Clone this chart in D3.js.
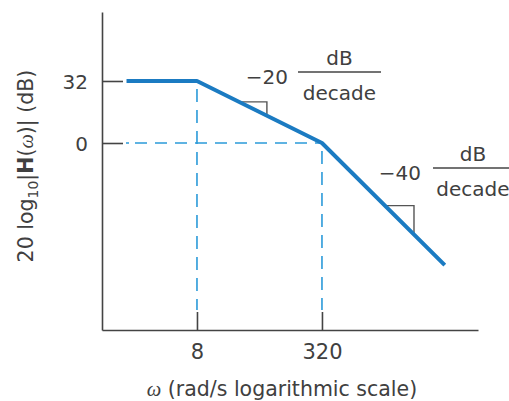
<!DOCTYPE html>
<html>
<head>
<meta charset="utf-8">
<script src="https://cdn.jsdelivr.net/npm/d3@7"></script>
<style>
  body { margin: 0; background: #fff; }
  text { font-family: "DejaVu Sans", "Liberation Sans", sans-serif; fill: #404040; }
</style>
</head>
<body>
<div id="chart"></div>
<script>
// asymptotic magnitude plot: corner points (omega in rad/s, magnitude in dB)
const omega = [1, 8, 320, 12000];
const magDb = [32, 32, 0, -63];
const xTicks = [8, 320];
const yTicks = [0, 32];
// right-angle slope markers, as [omega, dB] corners
const slopeMark1 = [[27.6, 21.2], [63, 21.2], [63, 14.1]];
const slopeMark2 = [[2058, -32.3], [4838, -32.3], [4838, -47.2]];
const slopeLabels = ["\u221220", "\u221240"];

const width = 509, height = 401;
const lineBlue = "#1b7bc2", dashBlue = "#2b9ad9", axisGray = "#444";

const svg = d3.select("#chart").append("svg")
  .attr("width", width).attr("height", height);

const x = d3.scaleLog().domain([0.485, 32000]).range([102, 478]);
const y = d3.scaleLinear().domain([-96.5, 67.6]).range([330, 12]);

const pts = omega.map((w, i) => [w, magDb[i]]);

// dashed guide lines
svg.append("line")
  .attr("x1", 126).attr("x2", x(320))
  .attr("y1", y(0)).attr("y2", y(0))
  .attr("stroke", dashBlue).attr("stroke-width", 1.6)
  .attr("stroke-dasharray", "3,6,12,8,12,8,12,8,12,8,12,8,12,8,12,8,12,8,12,8,12,8");

svg.selectAll("line.vguide")
  .data([[8, 32], [320, 0]])
  .join("line")
  .attr("class", "vguide")
  .attr("x1", d => x(d[0])).attr("x2", d => x(d[0]))
  .attr("y1", d => y(d[1]) + 8).attr("y2", 310)
  .attr("stroke", dashBlue).attr("stroke-width", 1.6)
  .attr("stroke-dasharray", "13,8");

// axes
const yAxis = d3.axisLeft(y).tickValues(yTicks).tickSize(-21).tickSizeOuter(0).tickPadding(14);
const gy = svg.append("g").attr("transform", "translate(102,0)").call(yAxis);
gy.selectAll("text").style("font-size", "20px").attr("dy", "0.36em");

const xAxis = d3.axisBottom(x).tickValues(xTicks).tickFormat(d3.format("d"))
  .tickSize(-18).tickSizeOuter(0).tickPadding(14);
const gx = svg.append("g").attr("transform", "translate(0,330)").call(xAxis);
gx.selectAll("text").style("font-size", "21px");

svg.selectAll(".domain, .tick line").attr("stroke", axisGray).attr("stroke-width", 1.6);

// slope markers
const markLine = d3.line().x(d => x(d[0])).y(d => y(d[1]));
svg.selectAll("path.mark")
  .data([slopeMark1, slopeMark2])
  .join("path")
  .attr("class", "mark")
  .attr("d", markLine)
  .attr("fill", "none").attr("stroke", "#555").attr("stroke-width", 1.4);

// response line
svg.append("path")
  .datum(pts)
  .attr("d", markLine)
  .attr("fill", "none")
  .attr("stroke", lineBlue)
  .attr("stroke-width", 4)
  .attr("stroke-linejoin", "round");

// slope labels
function slopeLabel(lx, ly, fracX, fracW, txt) {
  svg.append("text").attr("x", lx).attr("y", ly + 12)
    .attr("text-anchor", "end").style("font-size", "20px").text(txt);
  svg.append("line")
    .attr("x1", fracX).attr("x2", fracX + fracW)
    .attr("y1", ly).attr("y2", ly)
    .attr("stroke", "#444").attr("stroke-width", 1.3);
  svg.append("text").attr("x", fracX + fracW / 2).attr("y", ly - 7)
    .attr("text-anchor", "middle").style("font-size", "20px").text("dB");
  svg.append("text").attr("x", fracX + fracW / 2).attr("y", ly + 28)
    .attr("text-anchor", "middle").style("font-size", "20px").text("decade");
}
slopeLabel(288, 72, 298, 83, slopeLabels[0]);
slopeLabel(421, 168, 433, 80, slopeLabels[1]);

// axis titles
svg.append("text")
  .attr("x", 282).attr("y", 396)
  .attr("text-anchor", "middle").style("font-size", "20.5px")
  .call(t => {
    t.append("tspan").style("font-family", "'Liberation Serif', serif").style("font-style", "italic").text("\u03c9");
    t.append("tspan").text(" (rad/s logarithmic scale)");
  });

svg.append("text")
  .attr("transform", "translate(33,166) rotate(-90)")
  .attr("text-anchor", "middle").style("font-size", "20.5px")
  .call(t => {
    t.append("tspan").text("20 log");
    t.append("tspan").attr("dy", 5).style("font-size", "14px").text("10");
    t.append("tspan").attr("dy", -5).text("|");
    t.append("tspan").style("font-weight", "bold").text("H");
    t.append("tspan").text("(");
    t.append("tspan").style("font-family", "'Liberation Serif', serif").style("font-style", "italic").text("\u03c9");
    t.append("tspan").text(")| (dB)");
  });
</script>
</body>
</html>
